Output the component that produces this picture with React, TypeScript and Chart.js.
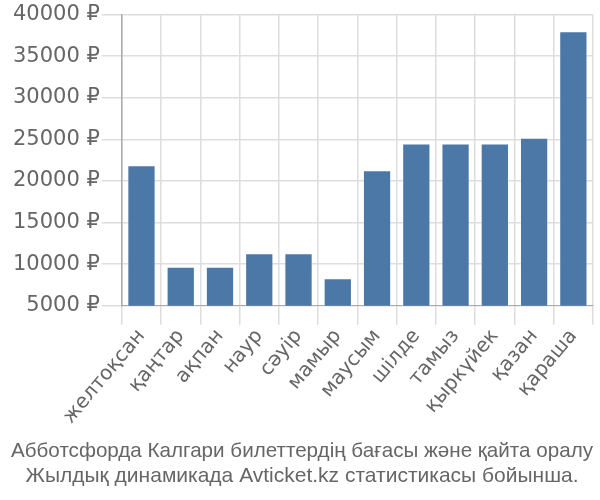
import React, { useEffect, useRef } from "react";
import { Chart, registerables } from "chart.js";

Chart.register(...registerables);

const months = ["желтоқсан", "қаңтар", "ақпан", "наур", "сәуір", "мамыр", "маусым", "шілде", "тамыз", "қыркүйек", "қазан", "қараша"];
const prices = [21900, 9700, 9700, 11300, 11300, 8300, 21300, 24500, 24500, 24500, 25200, 38000];
const titleLines = [
  "Абботсфорда Калгари билеттердің бағасы және қайта оралу",
  "Жылдық динамикада Avticket.kz статистикасы бойынша.",
];
const currency = " ₽";

export default function App() {
  const ref = useRef<HTMLCanvasElement | null>(null);
  useEffect(() => {
    document.body.style.margin = "0";
    const ctx = ref.current!;
    const chart = new Chart(ctx, {
      type: "bar",
      data: {
        labels: months,
        datasets: [
          {
            data: prices,
            backgroundColor: "#4c78a8",
            borderColor: "rgba(255,255,255,0.35)",
            borderWidth: 1,
            barPercentage: 0.72,
            categoryPercentage: 1,
          },
        ],
      },
      options: {
        responsive: false,
        animation: false,
        layout: { padding: { left: 11, right: 7, top: 5, bottom: 11 } },
        plugins: {
          legend: { display: false },
          tooltip: { enabled: false },
          title: {
            display: true,
            position: "bottom",
            text: titleLines,
            color: "#666",
            font: { family: "Liberation Sans", size: 21, weight: "normal" },
            padding: { top: 10, bottom: 0 },
            lineHeight: 1.35,
          },
        },
        scales: {
          x: {
            grid: { color: "#ddd", lineWidth: 1.5, tickLength: 19, offset: true },
            border: { color: "#aaa" },
            ticks: {
              color: "#666",
              font: { family: "DejaVu Sans", size: 20 },
              minRotation: 50,
              maxRotation: 50,
              padding: 0,
              autoSkip: false,
            },
          },
          y: {
            min: 5000,
            max: 40000,
            grid: { color: "#ddd", lineWidth: 1.5, tickLength: 20 },
            border: { color: "#aaa", width: 1.5 },
            ticks: {
              stepSize: 5000,
              color: "#666",
              font: { family: "DejaVu Sans", size: 21 },
              padding: 2,
              callback: (v: any) => v + currency,
            },
          },
        },
      },
    });
    return () => chart.destroy();
  }, []);
  return <canvas ref={ref} width={600} height={500} style={{ display: "block" }} />;
}
